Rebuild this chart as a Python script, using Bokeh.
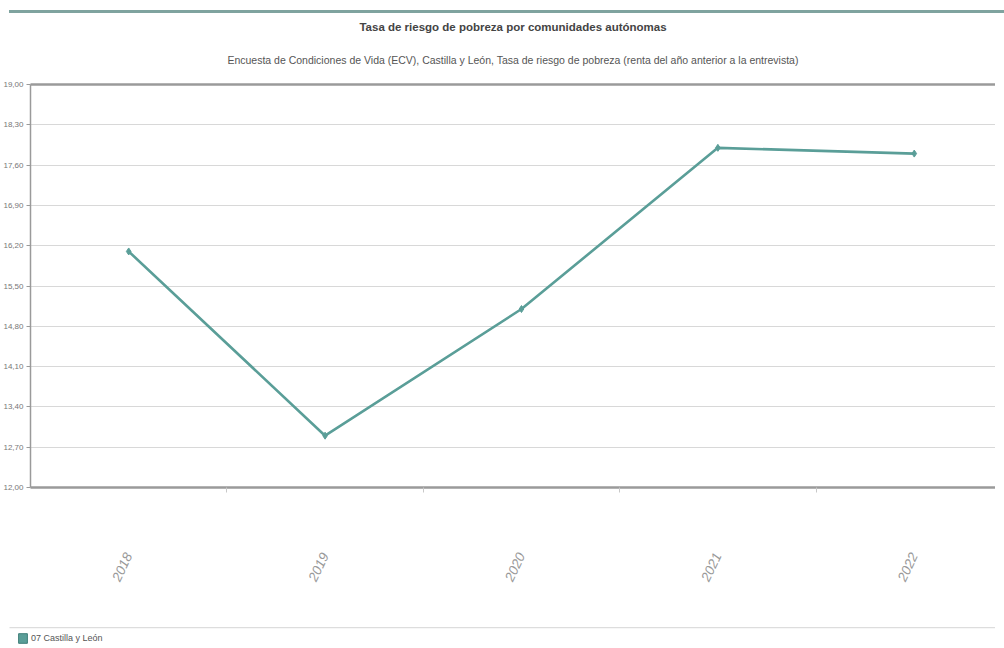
from bokeh.plotting import figure
from bokeh.models import (FixedTicker, Range1d, LinearAxis, Div, Title, Legend, LegendItem)
from bokeh.layouts import column, row
from bokeh.embed import file_html
from bokeh.resources import INLINE

years = [2018, 2019, 2020, 2021, 2022]
year_labels = ["2018", "2019", "2020", "2021", "2022"]
values = [16.1, 12.9, 15.1, 17.9, 17.8]
y_ticks = [12.0, 12.7, 13.4, 14.1, 14.8, 15.5, 16.2, 16.9, 17.6, 18.3, 19.0]
y_tick_labels = ["12,00", "12,70", "13,40", "14,10", "14,80", "15,50",
                 "16,20", "16,90", "17,60", "18,30", "19,00"]
series_name = "07 Castilla y León"
title_text = "Tasa de riesgo de pobreza por comunidades autónomas"
subtitle_text = ("Encuesta de Condiciones de Vida (ECV), Castilla y León, Tasa de riesgo "
                 "de pobreza (renta del año anterior a la entrevista)")

LINE = "#5a9e98"
FONT = "Liberation Sans"

W, H = 995, 609
frame_left = 27
frame_w = W - frame_left
band = 197.0

p = figure(width=W, height=H, output_backend="svg", toolbar_location=None,
           x_range=Range1d(years[0] - 0.5, years[0] - 0.5 + frame_w / band),
           y_range=Range1d(12.0, 19.0),
           min_border_left=frame_left, min_border_right=0,
           min_border_top=65, min_border_bottom=140,
           x_axis_location=None, y_axis_location=None)
p.outline_line_color = None
p.background_fill_color = "white"
p.border_fill_color = "white"

# y axis
yax = LinearAxis(ticker=FixedTicker(ticks=y_ticks))
yax.major_label_overrides = {t: l for t, l in zip(y_ticks, y_tick_labels)}
yax.major_label_text_font = FONT
yax.major_label_text_font_size = "8px"
yax.major_label_text_color = "#777777"
yax.major_label_standoff = 3
yax.axis_line_color = "#9a9a9a"
yax.axis_line_width = 1.5
yax.major_tick_line_color = "#9a9a9a"
yax.major_tick_in = 0
yax.major_tick_out = 4
yax.minor_tick_line_color = None
p.add_layout(yax, "left")

# x axis
xax = LinearAxis(ticker=FixedTicker(ticks=years,
                                    minor_ticks=[y + 0.5 for y in years]))
xax.major_label_overrides = {y: l for y, l in zip(years, year_labels)}
xax.major_label_orientation = 1.13
xax.major_label_text_font = FONT
xax.major_label_text_font_style = "italic"
xax.major_label_text_font_size = "13.5px"
xax.major_label_text_color = "#999999"
xax.major_label_standoff = 60
xax.axis_line_color = "#9a9a9a"
xax.axis_line_width = 2.5
xax.major_tick_line_color = None
xax.minor_tick_line_color = "#c8c8c8"
xax.minor_tick_in = 0
xax.minor_tick_out = 5
p.add_layout(xax, "below")

# top frame line
tax = LinearAxis(ticker=FixedTicker(ticks=[]))
tax.axis_line_color = "#9a9a9a"
tax.axis_line_width = 2.5
tax.major_label_text_font_size = "0px"
tax.major_tick_line_color = None
tax.minor_tick_line_color = None
p.add_layout(tax, "above")

p.ygrid.ticker = FixedTicker(ticks=y_ticks)
p.ygrid.grid_line_color = "#d8d8d8"
p.ygrid.grid_line_width = 1.2
p.xgrid.grid_line_color = None

p.line(years, values, line_color=LINE, line_width=2.6)
p.scatter(years, values, marker="diamond", size=7, fill_color=LINE,
          line_color=LINE)

# titles
p.add_layout(Title(text=subtitle_text, align="center", text_font=FONT,
                   text_font_size="10.5px", text_font_style="normal",
                   text_color="#555555", standoff=38), "above")
p.add_layout(Title(text=title_text, align="center", text_font=FONT,
                   text_font_size="11.5px", text_font_style="bold",
                   text_color="#444444", standoff=0), "above")

# legend figure (the swatch helper sits outside the visible range)
lf = figure(width=W, height=20, output_backend="svg", toolbar_location=None,
            x_range=Range1d(0, 1), y_range=Range1d(0, 1),
            min_border_left=9, min_border_right=0,
            min_border_top=0, min_border_bottom=0,
            x_axis_location=None, y_axis_location=None)
lf.outline_line_color = None
lf.grid.visible = False
sep_axis = LinearAxis(ticker=FixedTicker(ticks=[]))
sep_axis.axis_line_color = "#dddddd"
sep_axis.axis_line_width = 1.5
sep_axis.major_label_text_font_size = "0px"
sep_axis.major_tick_line_color = None
sep_axis.minor_tick_line_color = None
lf.add_layout(sep_axis, "above")
swatch = lf.quad(left=[5], right=[6], top=[6], bottom=[5], fill_color=LINE,
                 line_color="#3f7f7a", line_width=1)
legend = Legend(items=[LegendItem(label=series_name, renderers=[swatch])],
                location=(8, 3), orientation="horizontal",
                label_text_font=FONT, label_text_font_size="9px",
                label_text_color="#555555", glyph_width=11, glyph_height=12,
                label_standoff=3, border_line_color=None, padding=2, margin=0,
                label_height=12, background_fill_alpha=0)
lf.add_layout(legend, "center")

top = Div(width=W, height=8,
          text='<div style="position:relative;top:-4px;margin-left:4px;'
               'height:3px;background:#7fa39f;width:995px"></div>')
layout = column(top, p, row(lf), spacing=0)

open("out.html", "w").write(file_html(layout, INLINE))
